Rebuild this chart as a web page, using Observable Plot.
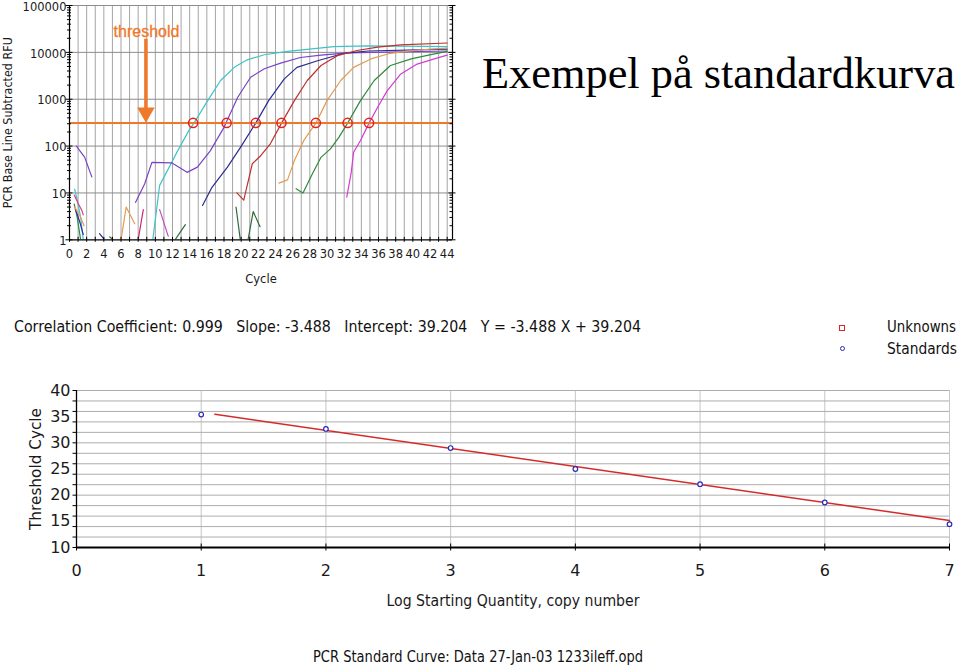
<!DOCTYPE html>
<html><head><meta charset="utf-8">
<script src="https://cdn.jsdelivr.net/npm/d3@7"></script>
<script src="https://cdn.jsdelivr.net/npm/@observablehq/plot@0.6"></script>
<style>
body{margin:0;background:#fff;}
#page{position:relative;width:960px;height:668px;overflow:hidden;background:#fff;}
#page svg{position:absolute;left:0;overflow:visible;}
.txt{position:absolute;white-space:pre;transform-origin:0 0;}
</style></head>
<body><div id="page"></div>
<script>
// ---------- Amplification plot data (cycle, RFU) ----------
const cyanCurve = [[9.7,1],[10.5,14.5],[11.3,27.5],[12.6,79],[13.9,214],[14.5,309],[16.1,933],[17.6,2510],[19.2,4790],[20.7,6920],[22.7,8900],[25.4,10500],[30.8,13200],[34.7,13800],[44,13200]];
const violetCurve = [[7.7,6.3],[8.75,15.5],[9.6,45],[11.9,44],[13.7,27.5],[14.9,35.5],[16.4,79],[18.0,251],[19.6,1100],[21.1,2950],[22.7,4470],[24.6,5890],[26.9,7760],[29.3,8710],[32.4,9770],[44,10700]];
const navyCurve = [[15.5,5.4],[16.6,13.2],[18.4,35.5],[19.9,93],[21.7,309],[23.2,933],[25.0,2690],[26.5,4790],[28.9,6610],[32,9550],[34.8,10700],[44,11750]];
const redCurve = [[19.5,10],[20.3,7],[21.3,42],[22.3,63],[23.4,112],[24.7,309],[26.2,933],[27.7,2510],[29.3,5250],[31.2,8510],[33.5,10960],[35.9,12880],[38.6,14450],[44,15850]];
const orangeCurve = [[24.4,16.2],[25.4,19],[26.2,49],[27.3,132],[28.7,309],[30.0,933],[31.6,2510],[33.1,4790],[35.1,7240],[37.4,9550],[40.5,11220],[44,12300]];
const greenCurve = [[26.4,12.3],[27.2,10],[28.3,25.7],[29.3,57.5],[30.4,87],[31.4,155],[32.4,309],[33.9,933],[35.5,2510],[37.4,5250],[39.8,7240],[42.1,8910],[44,10470]];
const magentaCurve = [[32.3,8.1],[32.8,25.7],[33.1,74],[33.9,132],[34.9,309],[35.9,676],[37.0,1510],[38.6,3470],[40.5,5620],[42.5,7240],[44,8710]];

const curves = [
  {pts: cyanCurve, color: "#3ec4c8"},
  {pts: violetCurve, color: "#7a42c8"},
  {pts: navyCurve, color: "#2b2b92"},
  {pts: redCurve, color: "#c0302c"},
  {pts: orangeCurve, color: "#e59a52"},
  {pts: greenCurve, color: "#2f8a3c"},
  {pts: magentaCurve, color: "#d23cd2"}
];

// background noise fragments of the baseline-subtracted traces
const noiseFragments = [
  {pts: [[0.8,100],[1.76,58],[2.6,22]], color: "#7a42c8"},
  {pts: [[0.6,12],[0.9,7],[1.3,3],[1.6,1]], color: "#3ec4c8"},
  {pts: [[0.55,9],[1.0,6],[1.45,4.2],[1.6,3.4]], color: "#e0408a"},
  {pts: [[0.55,5.8],[0.9,3],[1.3,1]], color: "#2f8a3c"},
  {pts: [[0.7,4.5],[1.2,2.4],[1.6,1.3]], color: "#2b2bb0"},
  {pts: [[0.6,5],[1.3,3],[1.7,2]], color: "#e59a52"},
  {pts: [[3.5,1.35],[4.0,1.05]], color: "#2b2b92"},
  {pts: [[4.7,1.15],[5.1,1]], color: "#2f6a3c"},
  {pts: [[6.0,1],[6.6,5],[7.6,2.2]], color: "#e59a52"},
  {pts: [[8.0,1],[8.35,2.4],[8.6,4.4]], color: "#d0207a"},
  {pts: [[10.5,4.4],[11.5,1.2]], color: "#c04cc8"},
  {pts: [[12.3,1],[13.5,2.1]], color: "#2f6a3c"},
  {pts: [[19.4,5],[19.9,1]], color: "#2f6a3c"},
  {pts: [[20.8,1],[21.4,4],[22.2,1.9]], color: "#2f6a3c"}
];

const thresholdRFU = 312;
const ctCycles = [14.4, 18.3, 21.7, 24.7, 28.7, 32.4, 34.9];
const arrowCycle = 8.9;
const arrowRFU = [19500, 571];
const arrowHeadRFU = 518;
const thresholdLabel = {cycle: 8.97, rfu: 27600, text: "threshold"};

const cycleDomain = [0, 44.62];
const cycleGrid = d3.range(0, 45);          // vertical grid every cycle
const cycleLabels = d3.range(0, 45, 2);     // 0,2,...,44
const decades = [1, 10, 100, 1000, 10000, 100000];
const minorRFU = [];
for (const d of [1, 10, 100, 1000, 10000]) for (let m = 2; m <= 9; m++) minorRFU.push(m * d);

// ---------- Standard curve data ----------
const logQuantity = [1, 2, 3, 4, 5, 6, 7];
const thresholdCycle = [35.4, 32.65, 29.0, 25.0, 22.1, 18.6, 14.45];
const fitX = [1.11, 7];
const fitY = [35.45, 15.15];
const xTicksStd = [0, 1, 2, 3, 4, 5, 6, 7];
const yGridStd = d3.range(10, 41, 2);
const yLabelsStd = [10, 15, 20, 25, 30, 35, 40];

const page = document.getElementById("page");
const orange = "#f0782a";
const axisFont = "DejaVu Sans, Verdana, sans-serif";

function fitText(svg, str, len) {
  svg.querySelectorAll("text").forEach(t => {
    if (t.textContent === str) { t.setAttribute("textLength", len); t.setAttribute("lengthAdjust", "spacingAndGlyphs"); }
  });
}

// ---------- Top chart ----------
const topPlot = Plot.plot({
  width: 460, height: 290,
  marginLeft: 69, marginRight: 8, marginTop: 5, marginBottom: 50.7,
  style: {fontFamily: axisFont, fontSize: "11.5px", color: "#1a1a1a", background: "transparent"},
  x: {domain: cycleDomain},
  y: {type: "log", domain: [1, 100000]},
  marks: [
    Plot.ruleX(cycleGrid.slice(1), {stroke: "#a4a4a4", strokeWidth: 1}),
    Plot.ruleY(decades.slice(1), {stroke: "#8c8c8c", strokeWidth: 1}),
    ...noiseFragments.map(f => Plot.line(f.pts, {x: d => d[0], y: d => d[1], stroke: f.color, strokeWidth: 1.2, clip: true})),
    ...curves.map(c => Plot.line(c.pts, {x: d => d[0], y: d => d[1], stroke: c.color, strokeWidth: 1.2, clip: true})),
    Plot.ruleY([thresholdRFU], {stroke: orange, strokeWidth: 2}),
    Plot.dot(ctCycles, {x: d => d, y: () => thresholdRFU, r: 4.6, stroke: "#e02222", strokeWidth: 1.5, fill: "none"}),
    Plot.link([arrowRFU], {x1: () => arrowCycle, x2: () => arrowCycle, y1: d => d[0], y2: d => d[1], stroke: orange, strokeWidth: 3.5}),
    Plot.dot([arrowHeadRFU], {x: () => arrowCycle, y: d => d, symbol: "triangle", rotate: 180, r: 6.5, fill: orange, stroke: "none"}),
    Plot.text([thresholdLabel], {x: "cycle", y: "rfu", text: "text", fill: orange, fontSize: 16, fontFamily: "Liberation Sans, Arial, sans-serif", stroke: orange, strokeWidth: 0.3}),
    // axis lines
    Plot.ruleX([cycleDomain[0]], {stroke: "#000", strokeWidth: 1.2}),
    Plot.ruleX([cycleDomain[1]], {stroke: "#000", strokeWidth: 1.2}),
    Plot.ruleY([1], {stroke: "#000", strokeWidth: 1.2}),
    // tick marks
    Plot.ruleX(cycleGrid, {x: d => d, y1: 1, y2: 1, insetTop: -2.5, insetBottom: -2.5, stroke: "#000"}),
    Plot.ruleY(decades, {y: d => d, x1: cycleDomain[0], x2: cycleDomain[0], insetLeft: -3.5, insetRight: -3.5, stroke: "#000"}),
    Plot.ruleY(minorRFU, {y: d => d, x1: cycleDomain[0], x2: cycleDomain[0], insetLeft: -2, insetRight: -2, stroke: "#000"}),
    Plot.ruleY(decades, {y: d => d, x1: cycleDomain[1], x2: cycleDomain[1], insetLeft: -3.5, insetRight: -3.5, stroke: "#000"}),
    Plot.ruleY(minorRFU, {y: d => d, x1: cycleDomain[1], x2: cycleDomain[1], insetLeft: -2.5, insetRight: 0, stroke: "#000"}),
    // axis labels
    Plot.axisY(decades, {tickSize: 0, tickPadding: 3, dy: 1.5, tickFormat: d => String(d), label: "PCR Base Line Subtracted RFU", labelAnchor: "center", labelArrow: "none"}),
    Plot.axisX(cycleLabels, {tickSize: 0, tickPadding: 10, tickFormat: d => String(d), label: "Cycle", labelAnchor: "center", labelArrow: "none", labelOffset: 43})
  ]
});
fitText(topPlot, "PCR Base Line Subtracted RFU", 171);
topPlot.style.top = "0px";
page.appendChild(topPlot);

// ---------- Bottom chart ----------
const standards = logQuantity.map((q, i) => ({q, ct: thresholdCycle[i]}));
const fitLine = fitX.map((q, i) => ({q, ct: fitY[i]}));
const botPlot = Plot.plot({
  width: 960, height: 293,
  marginLeft: 76, marginRight: 11, marginTop: 15, marginBottom: 121,
  style: {fontFamily: axisFont, fontSize: "15px", color: "#1a1a1a", background: "transparent"},
  x: {domain: [0, 7]},
  y: {domain: [10, 40]},
  marks: [
    Plot.ruleX(xTicksStd.slice(1), {stroke: "#c6c6c6"}),
    Plot.ruleY(yGridStd.slice(1), {stroke: "#adadad"}),
    Plot.line(fitLine, {x: "q", y: "ct", stroke: "#d42a2a", strokeWidth: 1.5}),
    Plot.dot(standards, {x: "q", y: "ct", r: 2.3, stroke: "#2a2ab8", strokeWidth: 1.2, fill: "white"}),
    Plot.ruleX([0], {stroke: "#000", strokeWidth: 1.3}),
    Plot.ruleY([10], {stroke: "#000", strokeWidth: 2}),
    Plot.ruleX(xTicksStd, {x: d => d, y1: 10, y2: 10, insetTop: -3.5, insetBottom: -3.5, stroke: "#000"}),
    Plot.ruleY(yGridStd, {y: d => d, x1: 0, x2: 0, insetLeft: -3.5, insetRight: 0, stroke: "#000"}),
    Plot.axisX(xTicksStd, {tickSize: 0, tickPadding: 17, fontSize: 16, tickFormat: d => String(d), label: "Log Starting Quantity, copy number", labelAnchor: "center", labelArrow: "none", labelOffset: 58}),
    Plot.axisY(yLabelsStd, {tickSize: 0, tickPadding: 6, tickFormat: d => String(d), label: "Threshold Cycle", labelAnchor: "center", labelArrow: "none", labelOffset: 46.7, fontSize: 16})
  ]
});
fitText(botPlot, "Log Starting Quantity, copy number", 253);
fitText(botPlot, "Threshold Cycle", 122);
botPlot.style.top = "375px";
page.appendChild(botPlot);

// ---------- Text blocks ----------
function addText(str, {x, baseline, width, size, font = axisFont, color = "#111"}) {
  const el = document.createElement("div");
  el.className = "txt";
  el.style.fontFamily = font;
  el.style.fontSize = size + "px";
  el.style.lineHeight = size + "px";
  el.style.color = color;
  el.style.left = x + "px";
  el.style.top = "0px";
  el.appendChild(document.createTextNode(str));
  const mark = document.createElement("span");
  mark.style.cssText = "display:inline-block;width:0;height:0;vertical-align:baseline;";
  el.appendChild(mark);
  page.appendChild(el);
  const r = el.getBoundingClientRect();
  const off = mark.getBoundingClientRect().top - r.top;
  el.style.top = (baseline - off) + "px";
  if (width) el.style.transform = `scaleX(${width / r.width})`;
  return el;
}

addText("Exempel på standardkurva", {x: 482, baseline: 87.5, width: 473, size: 44, font: "Liberation Serif, Times New Roman, serif", color: "#000"});
addText("Correlation Coefficient: 0.999   Slope: -3.488   Intercept: 39.204   Y = -3.488 X + 39.204", {x: 14, baseline: 332, width: 627, size: 16});
addText("Unknowns", {x: 887, baseline: 331.5, width: 69, size: 16});
addText("Standards", {x: 887, baseline: 354, width: 70, size: 16});
addText("PCR Standard Curve: Data 27-Jan-03 1233ileff.opd", {x: 313, baseline: 662, width: 330, size: 15});

// legend markers
const sq = document.createElement("div");
sq.style.cssText = "position:absolute;left:839px;top:325px;width:4px;height:4px;border:1.3px solid #d42a2a;";
page.appendChild(sq);
const ci = document.createElement("div");
ci.style.cssText = "position:absolute;left:840px;top:346px;width:3px;height:3px;border:1.2px solid #2a2ab8;border-radius:50%;";
page.appendChild(ci);
</script>
</body></html>
